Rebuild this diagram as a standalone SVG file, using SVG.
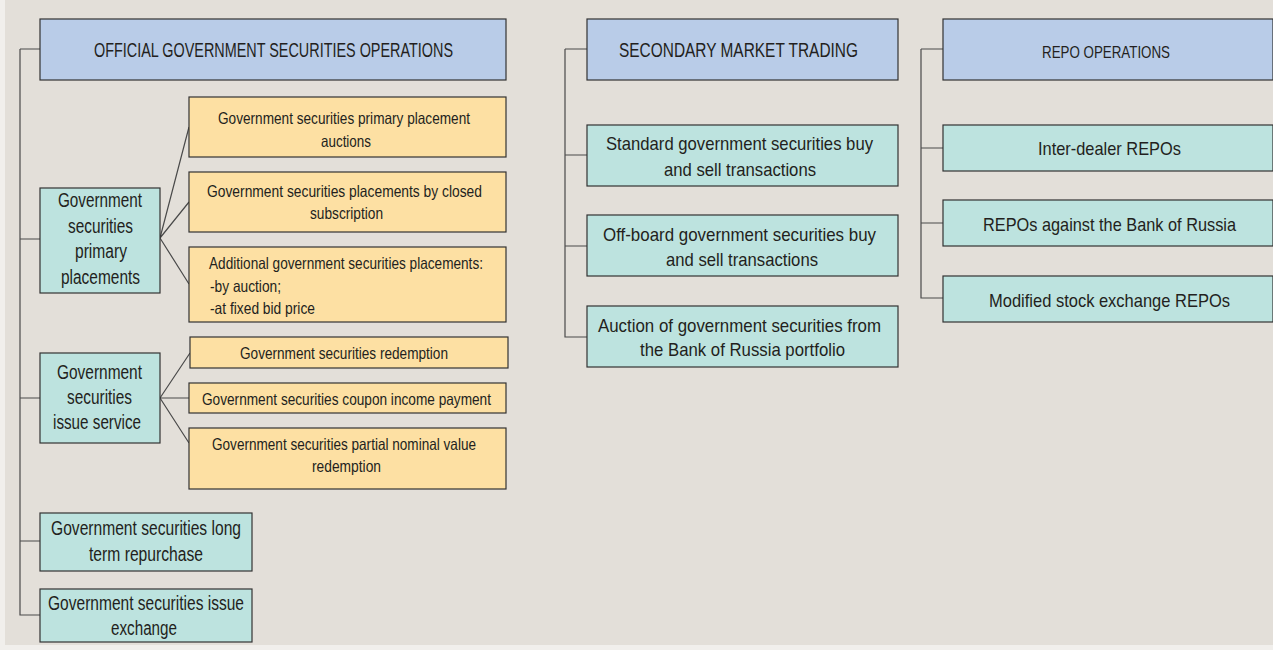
<svg xmlns="http://www.w3.org/2000/svg" width="1273" height="650" viewBox="0 0 1273 650">
<style>
.bg{fill:#e3dfd9}
.box{stroke:#333333;stroke-width:1.2}
.hd{fill:#b9cce8}
.tl{fill:#bde3df}
.yl{fill:#fde0a3}
.cn{fill:none;stroke:#4a4a4a;stroke-width:1.2}
text{font-family:"Liberation Sans Narrow","Liberation Sans",Arial,sans-serif;fill:#231f20;text-anchor:middle}
.h{font-size:20px}
.hs{font-size:17px}
.y{font-size:16.5px}
.t{font-size:20px}
.s{font-size:19px}
.st{text-anchor:start}
</style>
<rect x="0" y="0" width="1273" height="650" fill="#f1efec"/>
<rect class="bg" x="5" y="0" width="1268" height="645"/>
<g id="connectors">
<path class="cn" d="M20,49 H40 M20,49 V615 H40 M20,239 H40 M20,398 H40 M20,541 H40"/>
<path class="cn" d="M160,238 L189,127 M160,238 L189,202 M160,238 L189,284"/>
<path class="cn" d="M160,398 L190,353 M160,398 H189 M160,398 L189,443"/>
<path class="cn" d="M565,49 H587 M565,49 V337 H587 M565,155 H587 M565,246 H587"/>
<path class="cn" d="M921,49 H943 M921,49 V298 H943 M921,148 H943 M921,223 H943"/>
</g>
<g id="official">
<rect class="box hd" x="40" y="19" width="466" height="61"/>
<text class="h" x="273.5" y="57" textLength="359" lengthAdjust="spacingAndGlyphs">OFFICIAL GOVERNMENT SECURITIES OPERATIONS</text>
</g>
<g id="secondary">
<rect class="box hd" x="587" y="19" width="311" height="61"/>
<text class="h" x="738.5" y="57" textLength="239" lengthAdjust="spacingAndGlyphs">SECONDARY MARKET TRADING</text>
</g>
<g id="repo">
<rect class="box hd" x="943" y="19" width="330" height="61"/>
<text class="hs" x="1106" y="58" textLength="128" lengthAdjust="spacingAndGlyphs">REPO OPERATIONS</text>
</g>
<g id="primary">
<rect class="box tl" x="40" y="188" width="120" height="105"/>
<text class="t" x="100" y="207" textLength="84" lengthAdjust="spacingAndGlyphs">Government</text>
<text class="t" x="100.5" y="233" textLength="65" lengthAdjust="spacingAndGlyphs">securities</text>
<text class="t" x="101" y="258" textLength="52" lengthAdjust="spacingAndGlyphs">primary</text>
<text class="t" x="100.5" y="284" textLength="79" lengthAdjust="spacingAndGlyphs">placements</text>
</g>
<g id="auctions">
<rect class="box yl" x="189" y="97" width="317" height="60"/>
<text class="y" x="344" y="124" textLength="252" lengthAdjust="spacingAndGlyphs">Government securities primary placement</text>
<text class="y" x="346" y="146.5" textLength="50" lengthAdjust="spacingAndGlyphs">auctions</text>
</g>
<g id="closed">
<rect class="box yl" x="189" y="172" width="317" height="60"/>
<text class="y" x="344.5" y="197" textLength="275" lengthAdjust="spacingAndGlyphs">Government securities  placements by closed</text>
<text class="y" x="346.5" y="219" textLength="73" lengthAdjust="spacingAndGlyphs">subscription</text>
</g>
<g id="additional">
<rect class="box yl" x="189" y="247" width="317" height="75"/>
<text class="y st" x="209" y="269" textLength="274" lengthAdjust="spacingAndGlyphs">Additional government securities placements:</text>
<text class="y st" x="210" y="292" textLength="71" lengthAdjust="spacingAndGlyphs">-by auction;</text>
<text class="y st" x="210" y="314" textLength="105" lengthAdjust="spacingAndGlyphs">-at fixed bid price</text>
</g>
<g id="issue-service">
<rect class="box tl" x="40" y="353" width="120" height="90"/>
<text class="t" x="99.5" y="379" textLength="85" lengthAdjust="spacingAndGlyphs">Government</text>
<text class="t" x="99.5" y="404" textLength="65" lengthAdjust="spacingAndGlyphs">securities</text>
<text class="t" x="97" y="429" textLength="88" lengthAdjust="spacingAndGlyphs">issue service</text>
</g>
<g id="redemption">
<rect class="box yl" x="190" y="337" width="318" height="31"/>
<text class="y" x="344" y="359" textLength="208" lengthAdjust="spacingAndGlyphs">Government securities redemption</text>
</g>
<g id="coupon">
<rect class="box yl" x="189" y="383" width="317" height="30"/>
<text class="y" x="346.5" y="405" textLength="289" lengthAdjust="spacingAndGlyphs">Government securities coupon income payment</text>
</g>
<g id="partial">
<rect class="box yl" x="189" y="428" width="317" height="61"/>
<text class="y" x="344" y="450" textLength="264" lengthAdjust="spacingAndGlyphs">Government securities partial nominal value</text>
<text class="y" x="346.5" y="472" textLength="69" lengthAdjust="spacingAndGlyphs">redemption</text>
</g>
<g id="repurchase">
<rect class="box tl" x="40" y="513" width="212" height="58"/>
<text class="t" x="146" y="535" textLength="190" lengthAdjust="spacingAndGlyphs">Government securities long</text>
<text class="t" x="146" y="561" textLength="114" lengthAdjust="spacingAndGlyphs">term repurchase</text>
</g>
<g id="exchange">
<rect class="box tl" x="40" y="589" width="212" height="53"/>
<text class="t" x="146" y="610" textLength="196" lengthAdjust="spacingAndGlyphs">Government securities issue</text>
<text class="t" x="144" y="635" textLength="66" lengthAdjust="spacingAndGlyphs">exchange</text>
</g>
<g id="standard">
<rect class="box tl" x="587" y="125" width="311" height="61"/>
<text class="s" x="739.5" y="150" textLength="267" lengthAdjust="spacingAndGlyphs">Standard government securities buy</text>
<text class="s" x="740" y="176" textLength="152" lengthAdjust="spacingAndGlyphs">and sell transactions</text>
</g>
<g id="offboard">
<rect class="box tl" x="587" y="215" width="311" height="61"/>
<text class="s" x="739.5" y="241" textLength="273" lengthAdjust="spacingAndGlyphs">Off-board government securities buy</text>
<text class="s" x="742" y="266" textLength="152" lengthAdjust="spacingAndGlyphs">and sell transactions</text>
</g>
<g id="auction-portfolio">
<rect class="box tl" x="587" y="306" width="311" height="61"/>
<text class="s" x="739.5" y="332" textLength="283" lengthAdjust="spacingAndGlyphs">Auction of government securities from</text>
<text class="s" x="742.5" y="356" textLength="205" lengthAdjust="spacingAndGlyphs">the Bank of Russia portfolio</text>
</g>
<g id="inter-dealer">
<rect class="box tl" x="943" y="125" width="330" height="46"/>
<text class="s" x="1109.5" y="155" textLength="143" lengthAdjust="spacingAndGlyphs">Inter-dealer REPOs</text>
</g>
<g id="repo-bank">
<rect class="box tl" x="943" y="200" width="330" height="46"/>
<text class="s" x="1109.5" y="231" textLength="253" lengthAdjust="spacingAndGlyphs">REPOs against the Bank of Russia</text>
</g>
<g id="modified">
<rect class="box tl" x="943" y="276" width="330" height="46"/>
<text class="s" x="1109.5" y="307" textLength="241" lengthAdjust="spacingAndGlyphs">Modified stock exchange REPOs</text>
</g>
</svg>
